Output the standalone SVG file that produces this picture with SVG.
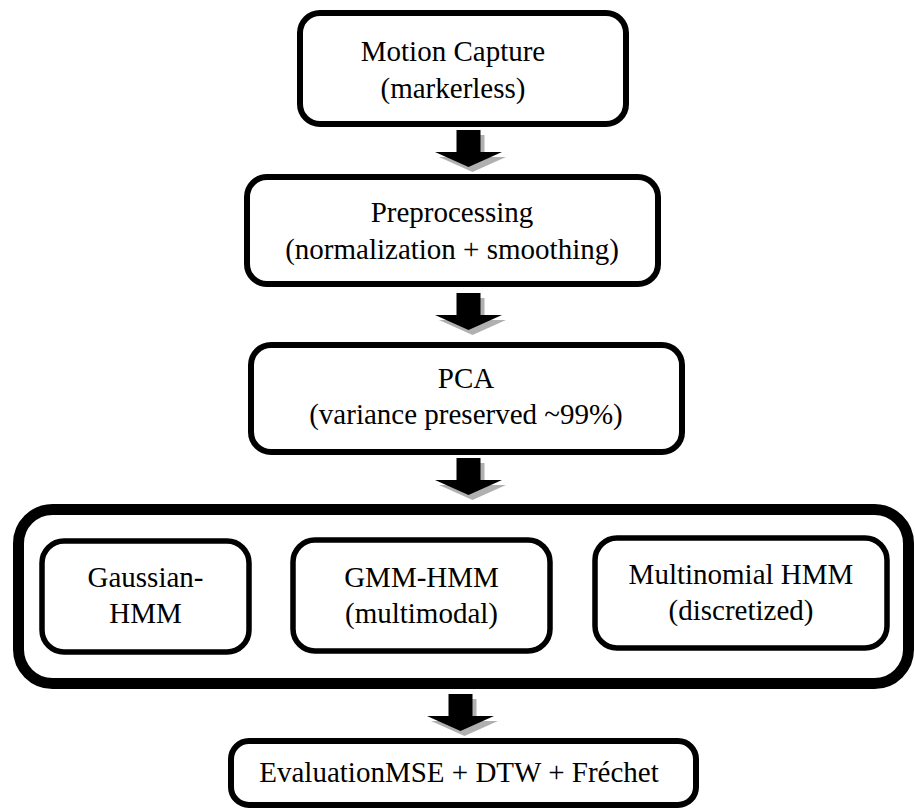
<svg xmlns="http://www.w3.org/2000/svg" xmlns:xlink="http://www.w3.org/1999/xlink" width="915" height="810" viewBox="0 0 915 810">
<style>
.box{fill:#fff;stroke:#000;stroke-width:6}
.inner{fill:#fff;stroke:#000;stroke-width:5.5}
.big{fill:#fff;stroke:#000;stroke-width:11}
.t{font-family:'Liberation Serif','DejaVu Serif',serif;font-size:29px;fill:#000;text-anchor:middle}
.shadow{fill:#b0b0b0}
.arrow{fill:#000}
</style>
<defs>
<path id="arr" d="M-12,-37 H12 V-15 H33.5 L0,0 L-33.5,-15 H-12 Z"/>
</defs>
<rect width="915" height="810" fill="#fff"/>
<g id="connectors">
<use href="#arr" xlink:href="#arr" class="shadow" transform="translate(472.5,172)"/>
<use href="#arr" xlink:href="#arr" class="arrow" transform="translate(468.5,167)"/>
<use href="#arr" xlink:href="#arr" class="shadow" transform="translate(472.5,335)"/>
<use href="#arr" xlink:href="#arr" class="arrow" transform="translate(468.5,330)"/>
<use href="#arr" xlink:href="#arr" class="shadow" transform="translate(472.5,500)"/>
<use href="#arr" xlink:href="#arr" class="arrow" transform="translate(468.5,495)"/>
<use href="#arr" xlink:href="#arr" class="shadow" transform="translate(464.5,736)"/>
<use href="#arr" xlink:href="#arr" class="arrow" transform="translate(460.5,731)"/>
</g>
<g font-family="Liberation Serif, DejaVu Serif, serif">
<g id="motion-capture">
<rect class="box" x="300" y="13" width="326" height="111" rx="20"/>
<text class="t" font-family="Liberation Serif, serif" x="453" y="61">Motion Capture</text>
<text class="t" font-family="Liberation Serif, serif" x="453" y="98">(markerless)</text>
</g>
<g id="preprocessing">
<rect class="box" x="247" y="177" width="411" height="107" rx="20"/>
<text class="t" font-family="Liberation Serif, serif" x="452" y="222">Preprocessing</text>
<text class="t" font-family="Liberation Serif, serif" x="452" y="259">(normalization + smoothing)</text>
</g>
<g id="pca">
<rect class="box" x="251" y="345" width="431" height="107" rx="20"/>
<text class="t" font-family="Liberation Serif, serif" x="466" y="388">PCA</text>
<text class="t" font-family="Liberation Serif, serif" x="466" y="424">(variance preserved ~99%)</text>
</g>
<g id="hmm-models">
<rect class="big" x="18.5" y="509.5" width="890" height="174" rx="34"/>
</g>
<g id="gaussian-hmm">
<rect class="inner" x="42" y="541" width="207" height="111" rx="22"/>
<text class="t" font-family="Liberation Serif, serif" x="145.5" y="587">Gaussian-</text>
<text class="t" font-family="Liberation Serif, serif" x="145.5" y="623">HMM</text>
</g>
<g id="gmm-hmm">
<rect class="inner" x="293" y="540" width="257" height="111" rx="22"/>
<text class="t" font-family="Liberation Serif, serif" x="421.5" y="587">GMM-HMM</text>
<text class="t" font-family="Liberation Serif, serif" x="421.5" y="623">(multimodal)</text>
</g>
<g id="multinomial-hmm">
<rect class="inner" x="595" y="538" width="292" height="110" rx="22"/>
<text class="t" font-family="Liberation Serif, serif" x="741" y="584">Multinomial HMM</text>
<text class="t" font-family="Liberation Serif, serif" x="741" y="620">(discretized)</text>
</g>
<g id="evaluation">
<rect class="box" x="231" y="741" width="465" height="64" rx="18"/>
<text class="t" font-family="Liberation Serif, serif" x="459" y="782">EvaluationMSE + DTW + Fréchet</text>
</g>
</g>
</svg>
